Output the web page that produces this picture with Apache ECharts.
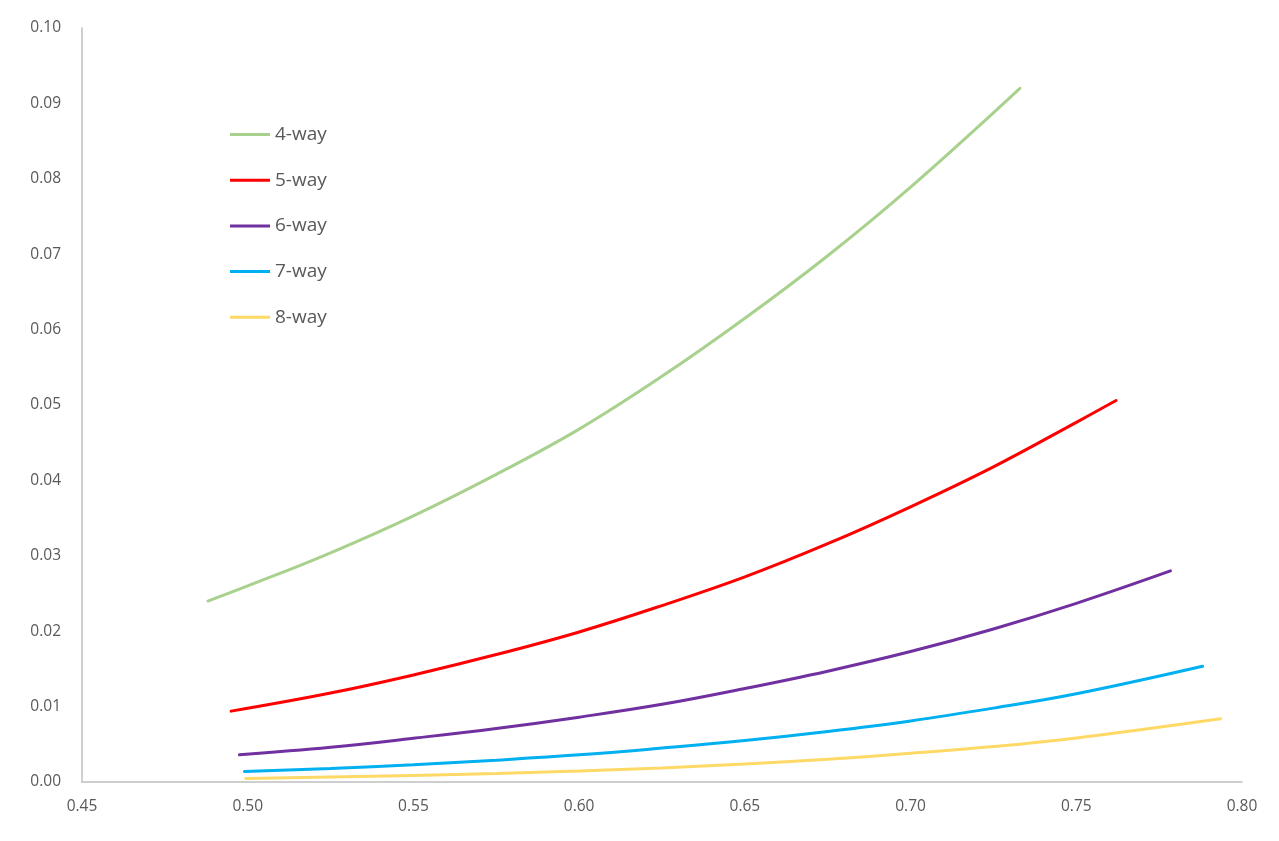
<!DOCTYPE html>
<html>
<head>
<meta charset="utf-8">
<script src="https://cdn.jsdelivr.net/npm/echarts@6/dist/echarts.min.js"></script>
<style>
html,body{margin:0;padding:0;background:#fff;}
#chart{width:1279px;height:841px;}
</style>
</head>
<body>
<div id="chart"></div>
<script>
const seriesNames = ['4-way', '5-way', '6-way', '7-way', '8-way'];
const seriesColors = ['#A9D18E', '#FF0000', '#7030A0', '#00B0F0', '#FFD966'];

const way4 = [[0.488,0.0240],[0.500,0.0260],[0.525,0.0304],[0.550,0.0353],[0.575,0.0408],[0.600,0.0468],[0.625,0.0538],[0.650,0.0615],[0.675,0.0698],[0.700,0.0789],[0.733,0.0920]];
const way5 = [[0.495,0.0094],[0.525,0.0118],[0.550,0.0142],[0.575,0.0169],[0.600,0.0199],[0.625,0.0234],[0.650,0.0272],[0.675,0.0316],[0.700,0.0365],[0.725,0.0418],[0.750,0.0477],[0.762,0.0506]];
const way6 = [[0.4975,0.0036],[0.525,0.0046],[0.550,0.0058],[0.575,0.0071],[0.600,0.0086],[0.625,0.0103],[0.650,0.0124],[0.675,0.0147],[0.700,0.0173],[0.725,0.0203],[0.750,0.0237],[0.7784,0.0280]];
const way7 = [[0.499,0.0014],[0.525,0.0018],[0.550,0.0023],[0.575,0.0029],[0.600,0.0036],[0.625,0.0045],[0.650,0.0055],[0.675,0.0067],[0.700,0.0081],[0.725,0.0098],[0.750,0.0117],[0.7881,0.01535]];
const way8 = [[0.4994,0.00047],[0.525,0.00065],[0.550,0.00087],[0.575,0.00113],[0.600,0.00146],[0.625,0.00187],[0.650,0.00240],[0.675,0.00302],[0.700,0.00380],[0.725,0.00470],[0.750,0.00585],[0.7935,0.0084]];
const allData = [way4, way5, way6, way7, way8];

const chart = echarts.init(document.getElementById('chart'), null, {renderer:'canvas'});
const font = '"Open Sans", "Noto Sans", sans-serif';
chart.setOption({
  animation: false,
  backgroundColor: '#ffffff',
  grid: {left: 82, right: 37, top: 28, bottom: 59, containLabel: false},
  legend: {
    orient: 'vertical',
    left: 225,
    top: 120,
    icon: 'rect',
    itemWidth: 40,
    itemHeight: 3,
    itemGap: 26.7,
    textStyle: {fontFamily: font, fontSize: 19, color: '#595959', lineHeight: 18},
    data: seriesNames
  },
  xAxis: {
    type: 'value',
    min: 0.45, max: 0.80, interval: 0.05,
    axisLine: {show: true, onZero: false, lineStyle: {color: '#BFBFBF', width: 1.5}},
    axisTick: {show: false},
    splitLine: {show: false},
    axisLabel: {fontFamily: font, fontSize: 15.5, color: '#595959', margin: 17,
      formatter: v => v.toFixed(2)}
  },
  yAxis: {
    type: 'value',
    min: 0, max: 0.10, interval: 0.01,
    axisLine: {show: true, lineStyle: {color: '#BFBFBF', width: 1.5}},
    axisTick: {show: false},
    splitLine: {show: false},
    axisLabel: {fontFamily: font, fontSize: 15.5, color: '#595959', margin: 21,
      formatter: v => v.toFixed(2)}
  },
  series: seriesNames.map((n, i) => ({
    name: n,
    type: 'line',
    data: allData[i],
    smooth: 0.4,
    showSymbol: false,
    symbol: 'none',
    color: seriesColors[i],
    lineStyle: {width: 3, color: seriesColors[i], cap: 'round'}
  }))
});
</script>
</body>
</html>
